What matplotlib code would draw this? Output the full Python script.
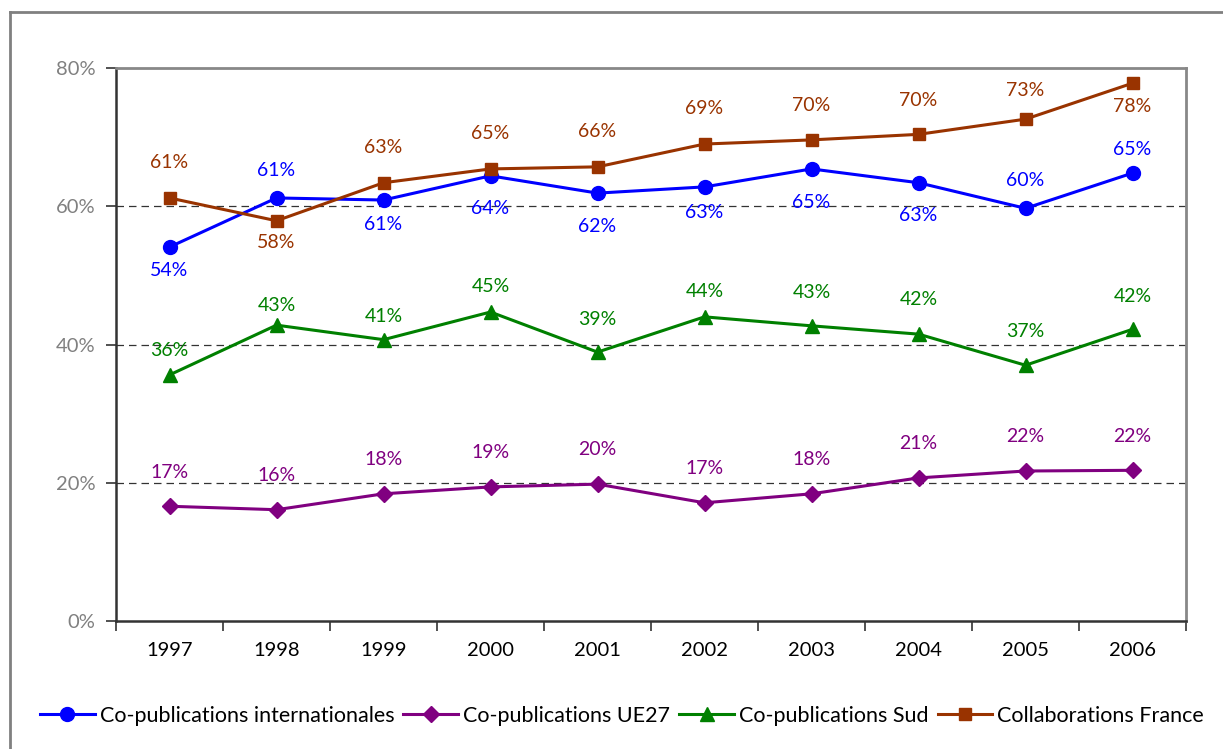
import matplotlib
matplotlib.use("Agg")
import matplotlib.pyplot as plt
from matplotlib.lines import Line2D

plt.rcParams['font.family'] = ['Lato', 'DejaVu Sans']

years = ['1997', '1998', '1999', '2000', '2001', '2002', '2003', '2004', '2005', '2006']
internationales = [54.1, 61.2, 60.9, 64.4, 61.9, 62.8, 65.4, 63.4, 59.7, 64.8]
ue27 = [16.6, 16.1, 18.4, 19.4, 19.8, 17.1, 18.4, 20.7, 21.7, 21.8]
sud = [35.6, 42.8, 40.7, 44.7, 38.9, 44.0, 42.7, 41.5, 37.0, 42.2]
france = [61.2, 57.9, 63.4, 65.4, 65.7, 69.0, 69.6, 70.4, 72.6, 77.8]
y_ticks = [0, 20, 40, 60, 80]

names = ['Co-publications internationales', 'Co-publications UE27',
         'Co-publications Sud', 'Collaborations France']
series = [internationales, ue27, sud, france]
colors = ['#0000FF', '#800080', '#008000', '#993300']
markers = ['o', 'D', '^', 's']
msizes = [10, 8.5, 10, 9]
# label vertical offsets in pixels (positive = below the point)
label_offsets = [
    [23, -27, 24, 33, 33, 26, 34, 33, -28, -24],
    [-34, -34, -34, -34, -35, -34, -34, -34, -34, -34],
    [-24, -20, -23, -26, -33, -25, -33, -35, -34, -33],
    [-35, 22, -35, -35, -35, -36, -34, -34, -29, 23],
]

fig = plt.figure(figsize=(12.23, 7.49), dpi=100)
ax = fig.add_axes([116/1223, 128/749, 1070/1223, 553/749])

x = list(range(len(years)))
for vals, name, c, m, ms, offs in zip(series, names, colors, markers, msizes, label_offsets):
    ax.plot(x, vals, color=c, marker=m, markersize=ms, linewidth=2.2,
            label=name, zorder=3)
    for xi, v, o in zip(x, vals, offs):
        ax.annotate(f"{round(v):d}%", (xi, v), xytext=(0, -o),
                    textcoords='offset pixels', ha='center', va='center',
                    color=c, fontsize=14, zorder=4)

ax.set_xlim(-0.5, len(years) - 0.5)
ax.set_ylim(0, 80)
ax.set_yticks(y_ticks)
ax.set_yticklabels([f"{t}%" for t in y_ticks], color='#808080', fontsize=14.5)
ax.set_xticks(x)
ax.set_xticklabels(years, fontsize=14.5, color='black')
ax.tick_params(axis='x', which='major', length=0, pad=15)
ax.set_xticks([i - 0.5 for i in range(len(years) + 1)], minor=True)
ax.tick_params(axis='x', which='minor', length=7, width=1.2, direction='out', color='#333333')
ax.tick_params(axis='y', length=7, width=1.2, direction='out', color='#333333', pad=8)

for yv in [20, 40, 60]:
    ax.axhline(yv, color='#333333', linewidth=0.9, linestyle=(0, (6, 4)), zorder=1)

for s in ['left', 'bottom']:
    ax.spines[s].set_color('#333333')
    ax.spines[s].set_linewidth(1.8)
for s in ['top', 'right']:
    ax.spines[s].set_color('#888888')
    ax.spines[s].set_linewidth(2)

# outer frame (left and top edges)
fig.add_artist(Line2D([10/1223, 10/1223], [0, 1 - 12/749], color='#808080', linewidth=2,
                      transform=fig.transFigure))
fig.add_artist(Line2D([10/1223, 1], [1 - 12/749, 1 - 12/749], color='#808080', linewidth=2,
                      transform=fig.transFigure))

leg = fig.legend(loc='center', bbox_to_anchor=(622/1223, 1 - 716/749), ncol=4,
                 frameon=False, fontsize=15.5, handlelength=2.55, handletextpad=0.23,
                 columnspacing=0.42, borderaxespad=0)

fig.savefig('out.png', dpi=100)
